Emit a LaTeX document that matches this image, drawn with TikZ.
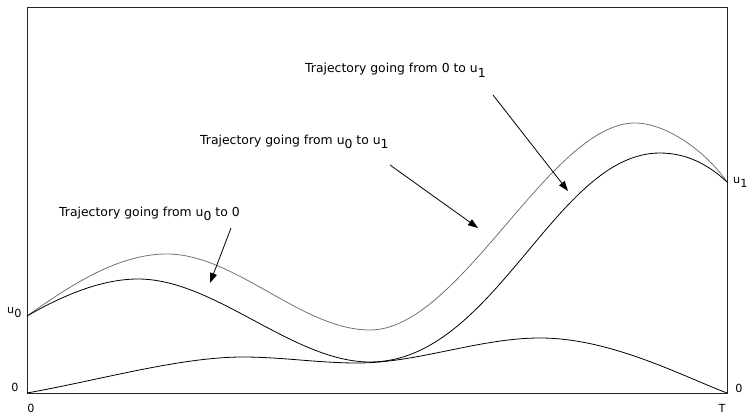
\documentclass[tikz,border=0pt]{standalone}
\usepackage{fontspec}
\setmainfont{DejaVu Sans}
\usetikzlibrary{arrows.meta}
\newcommand{\lowidx}[1]{\raisebox{-0.4em}{#1}}
\begin{document}
\begin{tikzpicture}[x=1pt, y=-1pt, font=\fontsize{12.4}{15}\selectfont,
  lbl/.style={inner sep=0pt, anchor=base west},
  axl/.style={inner sep=0pt, font=\fontsize{11.2}{13}\selectfont},
  pointer/.style={-{Triangle[length=10pt, width=7pt]}, line width=0.8pt}]
\useasboundingbox (0,0) rectangle (748,415);
\draw[line width=0.9pt, black!85] (27,7) rectangle (727,393);
\draw[black!55, line width=0.8pt] (27,316) .. controls (75,282) and (120,254) .. (167,254)
  .. controls (235,254) and (302,330) .. (370,330)
  .. controls (460,330) and (550,123) .. (635,123)
  .. controls (665,123) and (705,150) .. (727,182);
\draw[line width=0.8pt] (27,316) .. controls (60,297) and (100,279) .. (138,279)
  .. controls (215,279) and (293,362) .. (370,362)
  .. controls (495,362) and (555,153) .. (660,153)
  .. controls (690,153) and (712,168) .. (727,182);
\draw[line width=0.8pt] (27,393) .. controls (100,380) and (180,357) .. (243,357)
  .. controls (281,357) and (319,363) .. (357,363)
  .. controls (418,363) and (479,338) .. (540,338)
  .. controls (610,338) and (680,375) .. (727,393);
\node[axl] (t0) at (31,408) {0};
\node[axl] (tT) at (722,408) {T};
\node[axl] (zl) at (15,387) {0};
\node[axl] (zr) at (739,388) {0};
\node[axl, anchor=base west] (ul) at (7,313) {u\lowidx{0}};
\node[axl, anchor=base west] (ur) at (733,183) {u\lowidx{1}};
\node[lbl] (l0) at (59,216) {Trajectory going from u\lowidx{0} to 0};
\node[lbl] (l01) at (200,144) {Trajectory going from u\lowidx{0} to u\lowidx{1}};
\node[lbl] (l1) at (305,72.7) {Trajectory going from 0 to u\lowidx{1}};
\coordinate (s0) at (231,228); \coordinate (e0) at (210,283);
\coordinate (s01) at (390,165); \coordinate (e01) at (478,228);
\coordinate (s1) at (493,95); \coordinate (e1) at (568,191);
\draw[pointer] (s0) -- (e0);
\draw[pointer] (s01) -- (e01);
\draw[pointer] (s1) -- (e1);
\end{tikzpicture}
\end{document}
